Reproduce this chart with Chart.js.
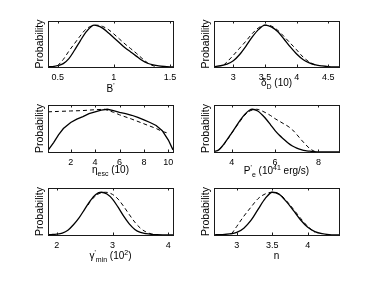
<!DOCTYPE html>
<html><head><meta charset="utf-8">
<script src="https://cdn.jsdelivr.net/npm/chart.js@4.4.0/dist/chart.umd.min.js"></script>
<style>
html,body{margin:0;padding:0;background:#fff;width:374px;height:281px;overflow:hidden;position:relative}
canvas{position:absolute}
</style></head><body>
<script>
// ---- data: B'
const B_x = [0.414,0.45,0.5,0.55,0.6,0.65,0.7,0.75,0.8,0.825,0.85,0.9,0.95,1.0,1.05,1.1,1.15,1.2,1.25,1.3,1.35,1.4,1.45,1.5,1.527];
const B_solid = [0.005,0.01,0.03,0.08,0.2,0.4,0.62,0.83,0.97,1.0,0.99,0.93,0.82,0.7,0.58,0.46,0.36,0.26,0.16,0.09,0.05,0.025,0.012,0.005,0.003];
const B_dx = [0.5,0.55,0.6,0.65,0.7,0.75,0.8,0.85,0.9,0.95,1.0,1.05,1.1,1.15,1.2,1.25,1.3,1.35,1.38];
const B_dash = [0.03,0.18,0.38,0.56,0.74,0.9,0.98,1.0,0.97,0.9,0.79,0.67,0.55,0.44,0.33,0.21,0.1,0.03,0.01];
const B_ticks = [0.5,1,1.5];
const B_tickLabels = ['0.5','1','1.5'];
const B_label = [['B','n'],["'",'sup']];
// ---- data: delta_D
const D_x = [2.695,2.8,2.9,3.0,3.1,3.2,3.3,3.4,3.5,3.6,3.7,3.8,3.9,4.0,4.1,4.2,4.3,4.4,4.5,4.669];
const D_solid = [0.01,0.03,0.07,0.15,0.3,0.5,0.72,0.9,1.0,0.96,0.85,0.67,0.48,0.31,0.18,0.1,0.05,0.025,0.01,0.003];
const D_dx = [2.85,2.9,3.0,3.1,3.2,3.3,3.4,3.5,3.6,3.7,3.8,3.9,4.0,4.1,4.2,4.3];
const D_dash = [0.05,0.12,0.28,0.45,0.62,0.8,0.94,1.0,0.98,0.88,0.73,0.57,0.41,0.24,0.12,0.04];
const D_ticks = [3,3.5,4,4.5];
const D_tickLabels = ['3','3.5','4','4.5'];
const D_label = [['δ','n'],['D','sub'],[' (10)','n']];
// ---- data: eta_esc
const E_x = [0.14,0.6,1.0,1.4,2.0,2.5,3.0,3.5,4.0,4.5,5.0,5.5,6.0,6.5,7.0,7.5,8.0,8.5,9.0,9.5,10.0,10.38];
const E_solid = [0.04,0.22,0.4,0.55,0.69,0.77,0.83,0.9,0.94,0.98,1.0,0.97,0.93,0.9,0.86,0.81,0.75,0.69,0.62,0.5,0.28,0.05];
const E_dx = [0.14,1,2,3,4,4.8,5.5,6,7,8,9,9.5,10];
const E_dash = [0.94,0.95,0.96,0.97,0.99,1.0,0.93,0.87,0.77,0.66,0.55,0.48,0.44];
const E_ticks = [2,4,6,8,10];
const E_tickLabels = ['2','4','6','8','10'];
const E_label = [['η','n'],['esc','sub'],[' (10)','n']];
// ---- data: P'_e
const P_x = [3.18,3.4,3.6,3.8,4.0,4.2,4.4,4.6,4.8,4.95,5.2,5.4,5.6,5.8,6.0,6.2,6.4,6.6,6.8,7.0,7.2,7.4,7.6,7.8,8.2,8.95];
const P_solid = [0.01,0.05,0.16,0.3,0.45,0.6,0.75,0.88,0.97,1.0,0.96,0.87,0.76,0.63,0.5,0.39,0.3,0.21,0.14,0.09,0.055,0.03,0.02,0.01,0.004,0.001];
const P_dx = [3.4,3.6,3.8,4.0,4.2,4.4,4.6,4.8,5.0,5.15,5.4,5.6,5.8,6.0,6.2,6.4,6.6,6.8,7.0,7.2,7.4,7.6,7.8,7.9];
const P_dash = [0.05,0.15,0.29,0.44,0.59,0.73,0.86,0.95,0.99,1.0,0.96,0.91,0.85,0.78,0.72,0.66,0.6,0.52,0.41,0.29,0.18,0.08,0.02,0.005];
const P_ticks = [4,6,8];
const P_tickLabels = ['4','6','8'];
const P_label = [['P','n'],["'",'sup'],['e','sub'],[' (10','n'],['41','sup'],[' erg/s)','n']];
// ---- data: gamma'_min
const G_x = [1.844,1.9,2.0,2.1,2.2,2.3,2.4,2.5,2.6,2.7,2.8,2.9,3.0,3.1,3.2,3.3,3.4,3.5,3.6,3.7,3.8,3.9,4.084];
const G_solid = [0.005,0.01,0.02,0.045,0.11,0.24,0.4,0.6,0.8,0.95,1.0,0.96,0.84,0.65,0.44,0.26,0.13,0.06,0.03,0.015,0.008,0.004,0.001];
const G_dx = [2.56,2.6,2.7,2.8,2.88,3.0,3.1,3.2,3.3,3.4,3.5,3.6,3.7,3.8];
const G_dash = [0.7,0.78,0.92,0.99,1.0,0.95,0.84,0.67,0.48,0.3,0.16,0.07,0.025,0.005];
const G_ticks = [2,3,4];
const G_tickLabels = ['2','3','4'];
const G_label = [['γ','n'],["'",'sup'],['min','sub'],[' (10','n'],['2','sup'],[')','n']];
// ---- data: n
const N_x = [2.68,2.8,2.9,3.0,3.1,3.2,3.3,3.4,3.5,3.6,3.7,3.8,3.9,4.0,4.1,4.2,4.3,4.44];
const N_solid = [0.005,0.01,0.025,0.06,0.16,0.34,0.6,0.85,1.0,0.95,0.78,0.57,0.35,0.18,0.08,0.03,0.01,0.003];
const N_dx = [2.93,3.0,3.1,3.2,3.3,3.4,3.5,3.6,3.7,3.8,3.9,4.0,4.1];
const N_dash = [0.03,0.2,0.44,0.65,0.85,0.96,1.0,0.96,0.8,0.6,0.39,0.2,0.06];
const N_ticks = [3,3.5,4];
const N_tickLabels = ['3','3.5','4'];
const N_label = [['n','n']];
const yLabel = 'Probability';

// ---- layout (positions / styles)
const FONT = '"Liberation Sans", Arial, Helvetica, sans-serif';
const panels = [
  {xs:B_x, ys:B_solid, xd:B_dx, yd:B_dash, min:0.414, max:1.527, ticks:B_ticks, tl:B_tickLabels, label:B_label, box:[48,21,125,46], labBase:92, tension:0.4},
  {xs:D_x, ys:D_solid, xd:D_dx, yd:D_dash, min:2.695, max:4.669, ticks:D_ticks, tl:D_tickLabels, label:D_label, box:[214,21,125,46], labBase:86, tension:0.4},
  {xs:E_x, ys:E_solid, xd:E_dx, yd:E_dash, min:0.14, max:10.38, ticks:E_ticks, tl:E_tickLabels, label:E_label, box:[48,105,125,47], labBase:173, tension:0},
  {xs:P_x, ys:P_solid, xd:P_dx, yd:P_dash, min:3.18, max:8.95, ticks:P_ticks, tl:P_tickLabels, label:P_label, box:[214,105,125,47], labBase:174, tension:0.4},
  {xs:G_x, ys:G_solid, xd:G_dx, yd:G_dash, min:1.844, max:4.084, ticks:G_ticks, tl:G_tickLabels, label:G_label, box:[48,188,125,47], labBase:259, tension:0.4},
  {xs:N_x, ys:N_solid, xd:N_dx, yd:N_dash, min:2.68, max:4.44, ticks:N_ticks, tl:N_tickLabels, label:N_label, box:[214,188,125,47], labBase:259, tension:0.4}
];
const padL = 45, padT = 8, padR = 12, padB = 44;

function drawRich(ctx, segs, cx, base){
  const sizes = {n:10, sub:7, sup:7};
  const offs = {n:0, sub:3, sup:-4};
  let total = 0;
  segs.forEach(s=>{ctx.font = sizes[s[1]]+'px '+FONT; total += ctx.measureText(s[0]).width;});
  let x = cx - total/2;
  ctx.textAlign='left'; ctx.textBaseline='alphabetic'; ctx.fillStyle='#000';
  segs.forEach(s=>{ctx.font = sizes[s[1]]+'px '+FONT; ctx.fillText(s[0], x, base+offs[s[1]]); x += ctx.measureText(s[0]).width;});
}

panels.forEach(p=>{
  const [bl,bt,bw,bh] = p.box;
  const c = document.createElement('canvas');
  const W = bw+padL+padR, H = bh+padT+padB;
  c.width = W; c.height = H;
  c.style.left = (bl-padL)+'px'; c.style.top = (bt-padT)+'px';
  c.style.width = W+'px'; c.style.height = H+'px';
  document.body.appendChild(c);
  const frame = {
    id:'frame',
    afterDatasetsDraw(chart){
      const {ctx, chartArea:a, scales:{x}} = chart;
      ctx.save();
      ctx.strokeStyle = '#1a1a1a'; ctx.lineWidth = 1;
      ctx.strokeRect(Math.round(a.left)+0.5, Math.round(a.top)+0.5, Math.round(a.right-a.left), Math.round(a.bottom-a.top));
      p.ticks.forEach(v=>{
        const px = Math.round(x.getPixelForValue(v))+0.5;
        ctx.beginPath();
        ctx.moveTo(px, a.bottom); ctx.lineTo(px, a.bottom-2.5);
        ctx.moveTo(px, a.top); ctx.lineTo(px, a.top+2.5);
        ctx.stroke();
      });
      ctx.restore();
    },
    afterDraw(chart){
      const {ctx, chartArea:a} = chart;
      ctx.save();
      // y label
      ctx.translate(padL-5, (a.top+a.bottom)/2);
      ctx.rotate(-Math.PI/2);
      ctx.font = '10.5px '+FONT; ctx.fillStyle='#000'; ctx.textAlign='center'; ctx.textBaseline='alphabetic';
      ctx.fillText(yLabel, 0, 0);
      ctx.restore();
      ctx.save();
      drawRich(ctx, p.label, (a.left+a.right)/2, p.labBase-(bt-padT));
      ctx.restore();
    }
  };
  new Chart(c, {
    type:'line',
    data:{datasets:[
      {data:p.xs.map((x,i)=>({x, y:p.ys[i]})), borderColor:'#000', borderWidth:1.3, pointRadius:0, fill:false, tension:p.tension, cubicInterpolationMode:p.tension?'monotone':'default'},
      {data:p.xd.map((x,i)=>({x, y:p.yd[i]})), borderColor:'#000', borderWidth:1, borderDash:[4,3], pointRadius:0, fill:false, tension:p.tension, cubicInterpolationMode:p.tension?'monotone':'default'}
    ]},
    options:{
      responsive:false, animation:false, devicePixelRatio:1,
      layout:{padding:{left:0, top:padT, right:padR, bottom:0}},
      plugins:{legend:{display:false}, tooltip:{enabled:false}},
      scales:{
        x:{type:'linear', min:p.min, max:p.max,
           afterBuildTicks:s=>{s.ticks = p.ticks.map(v=>({value:v}));},
           afterFit:s=>{s.height = padB;},
           grid:{display:false, drawTicks:false}, border:{display:false},
           ticks:{color:'#000', font:{family:FONT, size:9}, padding:5, maxRotation:0, autoSkip:false,
                  callback:(v,i)=>p.tl[i]}},
        y:{type:'linear', min:0, max:1.1,
           afterFit:s=>{s.width = padL;},
           grid:{display:false, drawTicks:false}, border:{display:false},
           ticks:{display:false}}
      }
    },
    plugins:[frame]
  });
});
</script>
</body></html>
